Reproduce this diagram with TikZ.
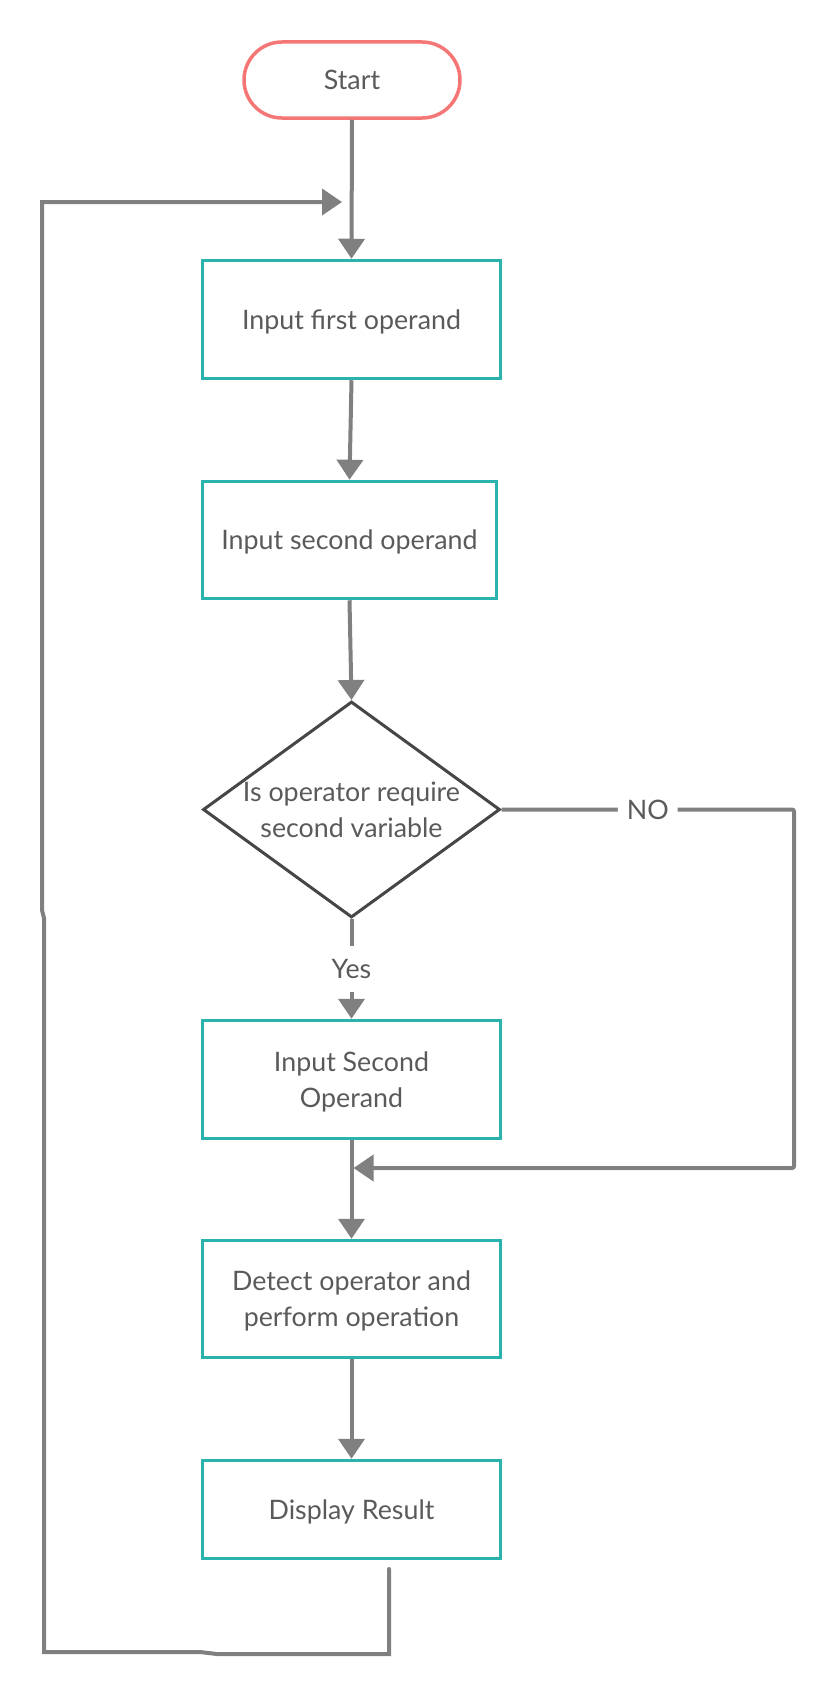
\documentclass[tikz,border=0pt]{standalone}
\usepackage{fontspec}
\setmainfont{Lato}
\usetikzlibrary{arrows.meta,shapes.geometric,shapes.misc}
\definecolor{tealb}{RGB}{42,178,172}
\definecolor{salmonb}{RGB}{245,118,118}
\definecolor{connc}{RGB}{128,128,128}
\definecolor{txtc}{RGB}{90,90,90}
\definecolor{diac}{RGB}{70,70,70}
\begin{document}
\begin{tikzpicture}[x=1pt,y=-1pt,
  every node/.style={font=\fontsize{26.8}{36}\selectfont, text=txtc},
  procbox/.style={draw=tealb, line width=3.5pt, rectangle, minimum width=298pt, align=center, inner sep=0pt, text depth=0pt},
  startbox/.style={draw=salmonb, line width=3.5pt, rounded rectangle, minimum width=216pt, minimum height=76pt, inner sep=0pt},
  decision/.style={draw=diac, line width=3pt, diamond, aspect=1.37, inner sep=0pt, minimum width=297pt, minimum height=216pt, align=center},
  flow/.style={draw=connc, line width=4pt, -{Triangle[length=20pt,width=26pt]}},
  lab/.style={fill=white, inner xsep=9pt, inner ysep=0pt, minimum height=46pt}
]
\useasboundingbox (0,0) rectangle (834,1694);
\node[startbox] (start) at (352,80) {Start};
\node[procbox, minimum height=118pt] (box1) at (351.5,319.5) {Input first operand};
\node[procbox, minimum width=294pt, minimum height=117pt] (box2) at (349.5,540) {Input second operand};
\node[decision] (dia) at (351.5,809.5) {Is operator require\\second variable};
\node[procbox, minimum height=118pt] (box3) at (351.5,1079.5) {Input Second\\Operand};
\node[procbox, minimum height=117pt] (box4) at (351.5,1299) {Detect operator and\\perform operation};
\node[procbox, minimum height=98pt] (box5) at (351.5,1509.5) {Display Result};

\coordinate (nox) at (794,0);
\coordinate (merge) at (353.5,1168);
\coordinate (ls) at (389,1569);
\coordinate (loopend) at (342,202);

\draw[flow] (start.south) -- (box1.north);
\draw[flow] (box1.south) -- (box2.north);
\draw[flow] (box2.south) -- (dia.north);
\draw[flow] (dia.south) -- node[lab]{Yes} (box3.north);
\draw[flow, rounded corners=2pt] (dia.east) -- node[lab]{NO} (dia.east -| nox) |- (merge);
\draw[flow] (box3.south) -- (box4.north);
\draw[flow] (box4.south) -- (box5.north);
\draw[flow, line cap=round] (ls) -- (389,1654) -- (217,1654) -- (200,1652) -- (44,1652) -- (44,918) -- (42,910) -- (42,202) -- (loopend);
\end{tikzpicture}
\end{document}
